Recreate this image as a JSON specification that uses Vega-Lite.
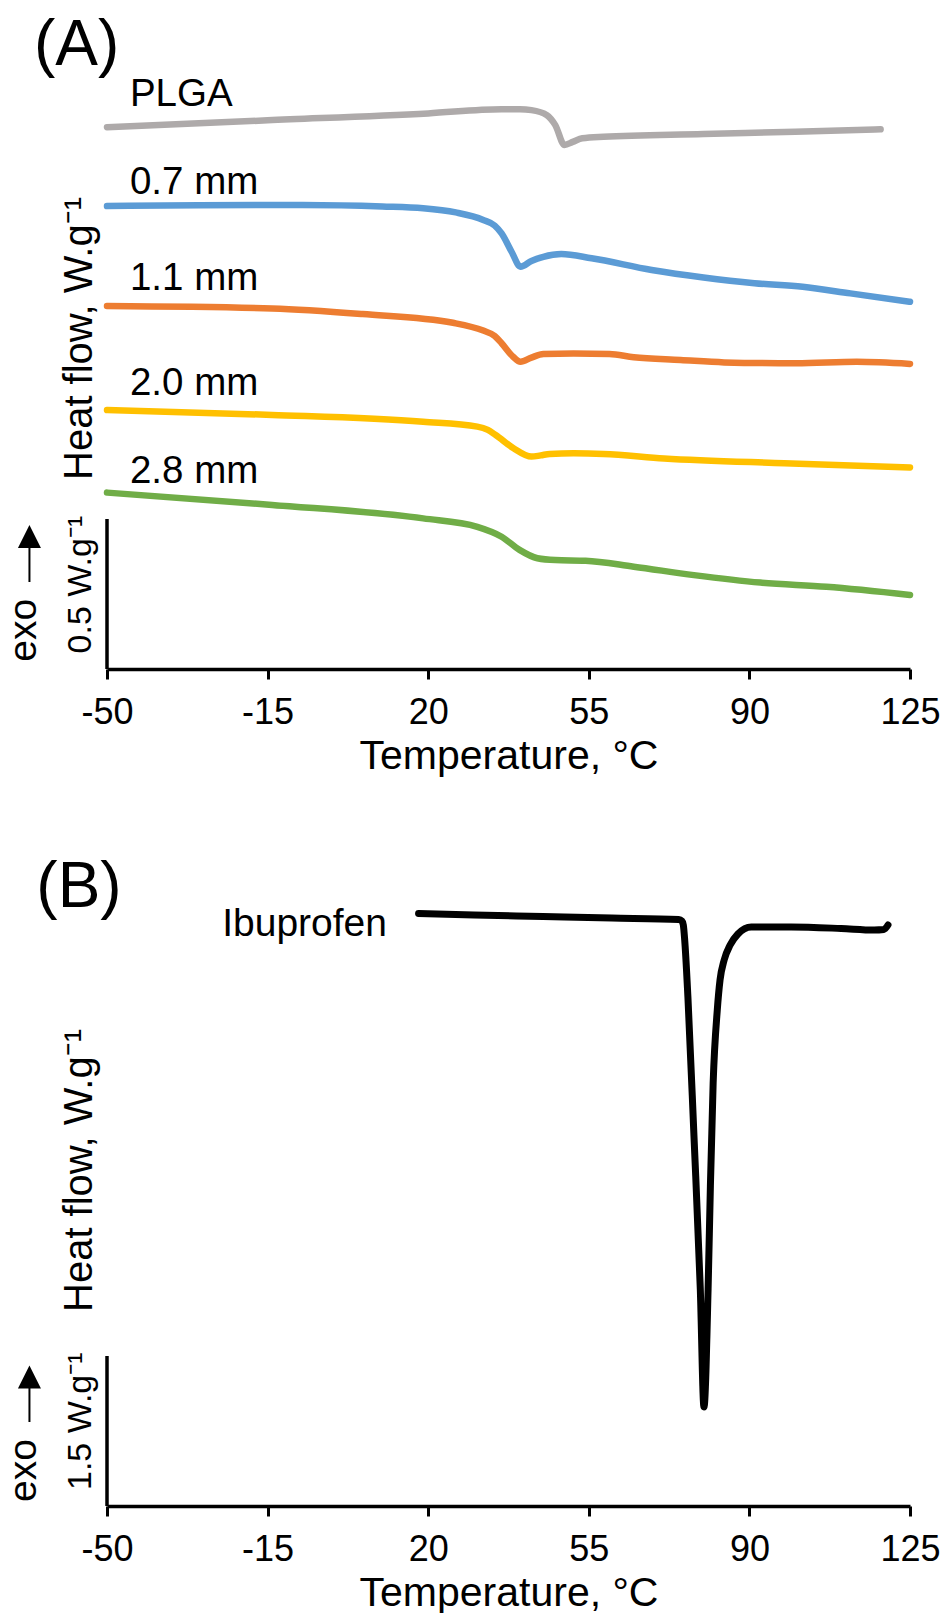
{
  "$schema": "https://vega.github.io/schema/vega-lite/v6.json",
  "padding": {"left": 5, "top": 0, "right": 5, "bottom": 0},
  "spacing": 30,
  "config": {
    "view": {"stroke": null},
    "font": "Liberation Sans",
    "text": {"color": "black", "font": "Liberation Sans"}
  },
  "datasets": {
    "curvesA": [
      {"series": "PLGA", "T": -50, "v": 1.806},
      {"series": "PLGA", "T": -15, "v": 1.829},
      {"series": "PLGA", "T": 20, "v": 1.852},
      {"series": "PLGA", "T": 36.0, "v": 1.866},
      {"series": "PLGA", "T": 40.0, "v": 1.866},
      {"series": "PLGA", "T": 42.5, "v": 1.863},
      {"series": "PLGA", "T": 45.8, "v": 1.847},
      {"series": "PLGA", "T": 47.7, "v": 1.813},
      {"series": "PLGA", "T": 49.7, "v": 1.747},
      {"series": "PLGA", "T": 51.5, "v": 1.757},
      {"series": "PLGA", "T": 53.6, "v": 1.769},
      {"series": "PLGA", "T": 58.2, "v": 1.774},
      {"series": "PLGA", "T": 80, "v": 1.783},
      {"series": "PLGA", "T": 100, "v": 1.791},
      {"series": "PLGA", "T": 118.6, "v": 1.799},
      {"series": "0.7 mm", "T": -50, "v": 1.543},
      {"series": "0.7 mm", "T": -30, "v": 1.546},
      {"series": "0.7 mm", "T": -7.4, "v": 1.547},
      {"series": "0.7 mm", "T": 10, "v": 1.542},
      {"series": "0.7 mm", "T": 18.9, "v": 1.536},
      {"series": "0.7 mm", "T": 26, "v": 1.522},
      {"series": "0.7 mm", "T": 32.0, "v": 1.497},
      {"series": "0.7 mm", "T": 34.5, "v": 1.478},
      {"series": "0.7 mm", "T": 36.0, "v": 1.452},
      {"series": "0.7 mm", "T": 38.2, "v": 1.39},
      {"series": "0.7 mm", "T": 40.1, "v": 1.341},
      {"series": "0.7 mm", "T": 42.5, "v": 1.36},
      {"series": "0.7 mm", "T": 45.1, "v": 1.374},
      {"series": "0.7 mm", "T": 49.0, "v": 1.383},
      {"series": "0.7 mm", "T": 55.6, "v": 1.369},
      {"series": "0.7 mm", "T": 68.7, "v": 1.33},
      {"series": "0.7 mm", "T": 80, "v": 1.305},
      {"series": "0.7 mm", "T": 91.1, "v": 1.286},
      {"series": "0.7 mm", "T": 101.6, "v": 1.274},
      {"series": "0.7 mm", "T": 112, "v": 1.252},
      {"series": "0.7 mm", "T": 125, "v": 1.224},
      {"series": "1.1 mm", "T": -50, "v": 1.21},
      {"series": "1.1 mm", "T": -14, "v": 1.202},
      {"series": "1.1 mm", "T": 5.7, "v": 1.183},
      {"series": "1.1 mm", "T": 25.4, "v": 1.154},
      {"series": "1.1 mm", "T": 32.0, "v": 1.128},
      {"series": "1.1 mm", "T": 34.5, "v": 1.11},
      {"series": "1.1 mm", "T": 36.0, "v": 1.086},
      {"series": "1.1 mm", "T": 38.5, "v": 1.041},
      {"series": "1.1 mm", "T": 40.1, "v": 1.024},
      {"series": "1.1 mm", "T": 42.5, "v": 1.038},
      {"series": "1.1 mm", "T": 45.1, "v": 1.05},
      {"series": "1.1 mm", "T": 51.7, "v": 1.052},
      {"series": "1.1 mm", "T": 59.5, "v": 1.05},
      {"series": "1.1 mm", "T": 64.8, "v": 1.039},
      {"series": "1.1 mm", "T": 75, "v": 1.03},
      {"series": "1.1 mm", "T": 84.5, "v": 1.022},
      {"series": "1.1 mm", "T": 100.2, "v": 1.019},
      {"series": "1.1 mm", "T": 113.4, "v": 1.024},
      {"series": "1.1 mm", "T": 125, "v": 1.017},
      {"series": "2.0 mm", "T": -50, "v": 0.863},
      {"series": "2.0 mm", "T": -14, "v": 0.847},
      {"series": "2.0 mm", "T": 18.9, "v": 0.824},
      {"series": "2.0 mm", "T": 30.7, "v": 0.808},
      {"series": "2.0 mm", "T": 33, "v": 0.797},
      {"series": "2.0 mm", "T": 34.7, "v": 0.78},
      {"series": "2.0 mm", "T": 38.6, "v": 0.736},
      {"series": "2.0 mm", "T": 42.5, "v": 0.708},
      {"series": "2.0 mm", "T": 44.5, "v": 0.712},
      {"series": "2.0 mm", "T": 46.5, "v": 0.717},
      {"series": "2.0 mm", "T": 51.7, "v": 0.719},
      {"series": "2.0 mm", "T": 58.2, "v": 0.717},
      {"series": "2.0 mm", "T": 71.4, "v": 0.702},
      {"series": "2.0 mm", "T": 97.6, "v": 0.686},
      {"series": "2.0 mm", "T": 125, "v": 0.672},
      {"series": "2.8 mm", "T": -50, "v": 0.588},
      {"series": "2.8 mm", "T": -14, "v": 0.547},
      {"series": "2.8 mm", "T": 18.9, "v": 0.502},
      {"series": "2.8 mm", "T": 30.7, "v": 0.474},
      {"series": "2.8 mm", "T": 36.0, "v": 0.441},
      {"series": "2.8 mm", "T": 39.9, "v": 0.397},
      {"series": "2.8 mm", "T": 43.8, "v": 0.369},
      {"series": "2.8 mm", "T": 47.7, "v": 0.363},
      {"series": "2.8 mm", "T": 54.3, "v": 0.361},
      {"series": "2.8 mm", "T": 64.8, "v": 0.341},
      {"series": "2.8 mm", "T": 77.9, "v": 0.313},
      {"series": "2.8 mm", "T": 92.4, "v": 0.288},
      {"series": "2.8 mm", "T": 106.8, "v": 0.274},
      {"series": "2.8 mm", "T": 125, "v": 0.247}
    ],
    "labelsA": [
      {"label": "PLGA", "T": -45, "v": 1.877},
      {"label": "0.7 mm", "T": -45, "v": 1.583},
      {"label": "1.1 mm", "T": -45, "v": 1.263},
      {"label": "2.0 mm", "T": -45, "v": 0.913},
      {"label": "2.8 mm", "T": -45, "v": 0.619}
    ],
    "ibuprofen": [
      {"series": "Ibuprofen", "T": 17.9, "v": 5.925},
      {"series": "Ibuprofen", "T": 30, "v": 5.91},
      {"series": "Ibuprofen", "T": 45, "v": 5.895},
      {"series": "Ibuprofen", "T": 60, "v": 5.88},
      {"series": "Ibuprofen", "T": 74.6, "v": 5.865},
      {"series": "Ibuprofen", "T": 75.3, "v": 5.85},
      {"series": "Ibuprofen", "T": 75.6, "v": 5.81},
      {"series": "Ibuprofen", "T": 75.9, "v": 5.66},
      {"series": "Ibuprofen", "T": 76.6, "v": 5.09},
      {"series": "Ibuprofen", "T": 77.9, "v": 3.72},
      {"series": "Ibuprofen", "T": 79.3, "v": 2.17},
      {"series": "Ibuprofen", "T": 80.1, "v": 0.99},
      {"series": "Ibuprofen", "T": 81.0, "v": 2.17},
      {"series": "Ibuprofen", "T": 81.5, "v": 3.2},
      {"series": "Ibuprofen", "T": 82.1, "v": 4.23},
      {"series": "Ibuprofen", "T": 83.0, "v": 4.96},
      {"series": "Ibuprofen", "T": 83.6, "v": 5.26},
      {"series": "Ibuprofen", "T": 84.5, "v": 5.46},
      {"series": "Ibuprofen", "T": 85.8, "v": 5.61},
      {"series": "Ibuprofen", "T": 87.5, "v": 5.72},
      {"series": "Ibuprofen", "T": 90.4, "v": 5.79},
      {"series": "Ibuprofen", "T": 99.1, "v": 5.79},
      {"series": "Ibuprofen", "T": 110, "v": 5.775},
      {"series": "Ibuprofen", "T": 117.2, "v": 5.76},
      {"series": "Ibuprofen", "T": 119.3, "v": 5.765},
      {"series": "Ibuprofen", "T": 120.2, "v": 5.81}
    ]
  },
  "vconcat": [
    {
      "width": 803,
      "height": 669,
      "layer": [
        {
          "data": {"name": "curvesA"},
          "mark": {"type": "line", "strokeWidth": 6.5, "interpolate": "monotone", "strokeCap": "round", "strokeJoin": "round"},
          "encoding": {
            "x": {"field": "T", "type": "quantitative", "scale": {"domain": [-50, 125], "nice": false, "zero": false},
              "axis": {
                "values": [-50, -15, 20, 55, 90, 125],
                "labelExpr": "datum.value < 0 ? '-' + abs(datum.value) : '' + datum.value",
                "title": "Temperature, °C",
                "titleFontSize": 41, "titleFontWeight": "normal", "titleColor": "black", "titleFont": "Liberation Sans",
                "labelFont": "Liberation Sans", "labelFontSize": 36, "labelColor": "black",
                "tickSize": 10, "tickWidth": 3, "tickColor": "black",
                "domainColor": "black", "domainWidth": 3.5,
                "labelPadding": 16, "titlePadding": 6,
                "grid": false, "labelFlush": false, "labelOverlap": false
              }},
            "y": {"field": "v", "type": "quantitative", "scale": {"domain": [0, 2.23], "nice": false}, "axis": null},
            "color": {"field": "series", "type": "nominal", "legend": null,
              "scale": {"domain": ["PLGA", "0.7 mm", "1.1 mm", "2.0 mm", "2.8 mm"], "range": ["#AEAAAA", "#5B9BD5", "#ED7D31", "#FFC000", "#70AD47"]}}
          }
        },
        {
          "data": {"name": "labelsA"},
          "mark": {"type": "text", "align": "left", "baseline": "alphabetic", "fontSize": 38.5},
          "encoding": {
            "x": {"field": "T", "type": "quantitative"},
            "y": {"field": "v", "type": "quantitative"},
            "text": {"field": "label"}
          }
        },
        {
          "data": {"values": [{"label": "(A)", "T": -65.9, "v": 2.013}]},
          "mark": {"type": "text", "align": "left", "baseline": "alphabetic", "fontSize": 64},
          "encoding": {
            "x": {"field": "T", "type": "quantitative"},
            "y": {"field": "v", "type": "quantitative"},
            "text": {"field": "label"}
          }
        },
        {
          "data": {"values": [{"label": "Heat flow, W.g⁻¹", "T": -53.3, "v": 0.63}]},
          "mark": {"type": "text", "align": "left", "baseline": "alphabetic", "fontSize": 40, "angle": 270},
          "encoding": {
            "x": {"field": "T", "type": "quantitative"},
            "y": {"field": "v", "type": "quantitative"},
            "text": {"field": "label"}
          }
        },
        {
          "data": {"values": [{"label": "0.5 W.g⁻¹", "T": -53.4, "v": 0.052}]},
          "mark": {"type": "text", "align": "left", "baseline": "alphabetic", "fontSize": 34, "angle": 270},
          "encoding": {
            "x": {"field": "T", "type": "quantitative"},
            "y": {"field": "v", "type": "quantitative"},
            "text": {"field": "label"}
          }
        },
        {
          "data": {"values": [{"label": "exo", "T": -65.4, "v": 0.024}]},
          "mark": {"type": "text", "align": "left", "baseline": "alphabetic", "fontSize": 39, "angle": 270},
          "encoding": {
            "x": {"field": "T", "type": "quantitative"},
            "y": {"field": "v", "type": "quantitative"},
            "text": {"field": "label"}
          }
        },
        {
          "data": {"values": [{"T": -50, "v": 0, "v2": 0.5}, {"T": -66.9, "v": 0.29, "v2": 0.42}]},
          "mark": {"type": "rule", "color": "black"},
          "encoding": {
            "x": {"field": "T", "type": "quantitative"},
            "y": {"field": "v", "type": "quantitative"},
            "y2": {"field": "v2"},
            "strokeWidth": {"condition": {"test": "datum.T < -60", "value": 2}, "value": 3.5}
          }
        },
        {
          "data": {"values": [{"T": -66.9, "v": 0.442}]},
          "mark": {"type": "point", "shape": "M-1,1L0,-1L1,1Z", "size": 529, "filled": true, "color": "black", "opacity": 1},
          "encoding": {
            "x": {"field": "T", "type": "quantitative"},
            "y": {"field": "v", "type": "quantitative"}
          }
        }
      ]
    },
    {
      "width": 803,
      "height": 700,
      "layer": [
        {
          "data": {"name": "ibuprofen"},
          "mark": {"type": "line", "strokeWidth": 7, "interpolate": "monotone", "strokeCap": "round", "strokeJoin": "round", "color": "black"},
          "encoding": {
            "x": {"field": "T", "type": "quantitative", "scale": {"domain": [-50, 125], "nice": false, "zero": false},
              "axis": {
                "values": [-50, -15, 20, 55, 90, 125],
                "labelExpr": "datum.value < 0 ? '-' + abs(datum.value) : '' + datum.value",
                "title": "Temperature, °C",
                "titleFontSize": 41, "titleFontWeight": "normal", "titleColor": "black", "titleFont": "Liberation Sans",
                "labelFont": "Liberation Sans", "labelFontSize": 36, "labelColor": "black",
                "tickSize": 10, "tickWidth": 3, "tickColor": "black",
                "domainColor": "black", "domainWidth": 3.5,
                "labelPadding": 16, "titlePadding": 6,
                "grid": false, "labelFlush": false, "labelOverlap": false
              }},
            "y": {"field": "v", "type": "quantitative", "scale": {"domain": [0, 7.0], "nice": false}, "axis": null}
          }
        },
        {
          "data": {"values": [{"label": "Ibuprofen", "T": -24.9, "v": 5.697}]},
          "mark": {"type": "text", "align": "left", "baseline": "alphabetic", "fontSize": 39},
          "encoding": {
            "x": {"field": "T", "type": "quantitative"},
            "y": {"field": "v", "type": "quantitative"},
            "text": {"field": "label"}
          }
        },
        {
          "data": {"values": [{"label": "(B)", "T": -65.4, "v": 5.99}]},
          "mark": {"type": "text", "align": "left", "baseline": "alphabetic", "fontSize": 64},
          "encoding": {
            "x": {"field": "T", "type": "quantitative"},
            "y": {"field": "v", "type": "quantitative"},
            "text": {"field": "label"}
          }
        },
        {
          "data": {"values": [{"label": "Heat flow, W.g⁻¹", "T": -53.3, "v": 1.94}]},
          "mark": {"type": "text", "align": "left", "baseline": "alphabetic", "fontSize": 40, "angle": 270},
          "encoding": {
            "x": {"field": "T", "type": "quantitative"},
            "y": {"field": "v", "type": "quantitative"},
            "text": {"field": "label"}
          }
        },
        {
          "data": {"values": [{"label": "1.5 W.g⁻¹", "T": -53.4, "v": 0.16}]},
          "mark": {"type": "text", "align": "left", "baseline": "alphabetic", "fontSize": 34, "angle": 270},
          "encoding": {
            "x": {"field": "T", "type": "quantitative"},
            "y": {"field": "v", "type": "quantitative"},
            "text": {"field": "label"}
          }
        },
        {
          "data": {"values": [{"label": "exo", "T": -65.4, "v": 0.04}]},
          "mark": {"type": "text", "align": "left", "baseline": "alphabetic", "fontSize": 39, "angle": 270},
          "encoding": {
            "x": {"field": "T", "type": "quantitative"},
            "y": {"field": "v", "type": "quantitative"},
            "text": {"field": "label"}
          }
        },
        {
          "data": {"values": [{"T": -50, "v": 0, "v2": 1.5}, {"T": -66.9, "v": 0.84, "v2": 1.22}]},
          "mark": {"type": "rule", "color": "black"},
          "encoding": {
            "x": {"field": "T", "type": "quantitative"},
            "y": {"field": "v", "type": "quantitative"},
            "y2": {"field": "v2"},
            "strokeWidth": {"condition": {"test": "datum.T < -60", "value": 2}, "value": 3.5}
          }
        },
        {
          "data": {"values": [{"T": -66.9, "v": 1.29}]},
          "mark": {"type": "point", "shape": "M-1,1L0,-1L1,1Z", "size": 529, "filled": true, "color": "black", "opacity": 1},
          "encoding": {
            "x": {"field": "T", "type": "quantitative"},
            "y": {"field": "v", "type": "quantitative"}
          }
        }
      ]
    }
  ]
}
